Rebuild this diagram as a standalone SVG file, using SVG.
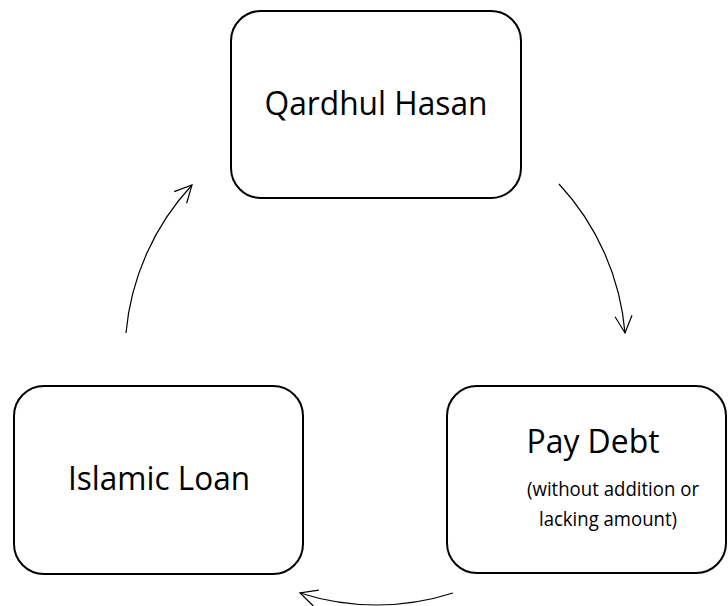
<svg xmlns="http://www.w3.org/2000/svg" width="728" height="606" viewBox="0 0 728 606">
  <defs>
    <style>
      .box { fill: #ffffff; stroke: #000000; stroke-width: 2; }
      .title { font-family: "Open Sans", "Noto Sans", "Liberation Sans", sans-serif; font-size: 32px; fill: #000000; text-anchor: middle; }
      .sub { font-family: "Open Sans", "Noto Sans", "Liberation Sans", sans-serif; font-size: 20px; fill: #000000; text-anchor: middle; }
      .link { fill: none; stroke: #000000; stroke-width: 1.2; }
    </style>
    <marker id="open-arrow" markerUnits="userSpaceOnUse" markerWidth="24" markerHeight="24" viewBox="-20 -12 24 24" refX="0" refY="0" orient="auto">
      <path d="M-17,-8.5 L0,0 L-17,8.5" fill="none" stroke="#000000" stroke-width="1.2"/>
    </marker>
  </defs>
  <rect width="728" height="606" fill="#ffffff"/>

  <g id="connectors">
    <path class="link" d="M126 333 A250 250 0 0 1 192 185" marker-end="url(#open-arrow)"/>
    <path class="link" d="M559 184 A250 250 0 0 1 625 333" marker-end="url(#open-arrow)"/>
    <path class="link" d="M453 593 A250 250 0 0 1 300 593" marker-end="url(#open-arrow)"/>
  </g>

  <g id="qardhul-hasan">
    <rect class="box" x="231" y="11" width="290" height="187" rx="30" ry="30"/>
    <text class="title" x="376" y="115" textLength="223" lengthAdjust="spacingAndGlyphs">Qardhul Hasan</text>
  </g>

  <g id="pay-debt">
    <rect class="box" x="447" y="386" width="279" height="187" rx="30" ry="30"/>
    <text class="title" x="593" y="453" textLength="133" lengthAdjust="spacingAndGlyphs">Pay Debt</text>
    <text class="sub" x="613" y="496" textLength="172" lengthAdjust="spacingAndGlyphs">(without addition or</text>
    <text class="sub" x="608" y="526" textLength="138" lengthAdjust="spacingAndGlyphs">lacking amount)</text>
  </g>

  <g id="islamic-loan">
    <rect class="box" x="14" y="386" width="289" height="188" rx="30" ry="30"/>
    <text class="title" x="159" y="490" textLength="182" lengthAdjust="spacingAndGlyphs">Islamic Loan</text>
  </g>
</svg>
